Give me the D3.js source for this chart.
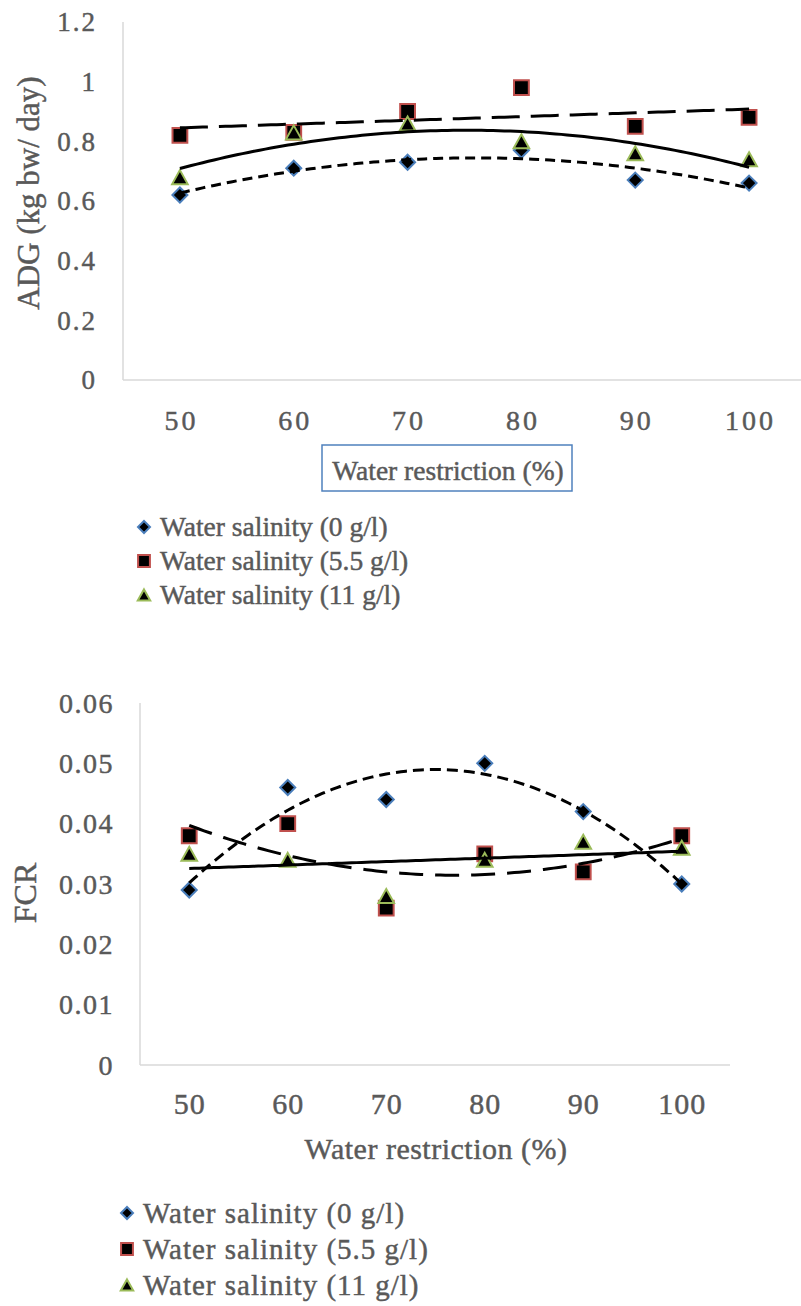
<!DOCTYPE html>
<html><head><meta charset="utf-8">
<script src="https://cdn.jsdelivr.net/npm/d3@7"></script>
<style>body{margin:0;background:#fff}svg{display:block}</style>
</head><body>
<svg id="c" width="801" height="1306"></svg>
<script>
const categories = [50, 60, 70, 80, 90, 100];
const seriesNames = ["Water salinity (0 g/l)", "Water salinity (5.5 g/l)", "Water salinity (11 g/l)"];
const adg0 = [0.62, 0.71, 0.73, 0.77, 0.67, 0.66];
const adg55 = [0.82, 0.83, 0.90, 0.98, 0.85, 0.88];
const adg11 = [0.68, 0.83, 0.86, 0.80, 0.76, 0.74];
const fcr0 = [0.029, 0.046, 0.044, 0.050, 0.042, 0.030];
const fcr55 = [0.038, 0.040, 0.026, 0.035, 0.032, 0.038];
const fcr11 = [0.035, 0.034, 0.028, 0.034, 0.037, 0.036];
const adgTicks = [0, 0.2, 0.4, 0.6, 0.8, 1, 1.2];
const fcrTicks = [0, 0.01, 0.02, 0.03, 0.04, 0.05, 0.06];
// trendline order per series: chart1 [poly, linear, poly]; chart2 [poly, poly, linear]
const adgTrend = [2, 1, 2];
const fcrTrend = [2, 2, 1];

const FONT = "'Liberation Serif'";
const svg = d3.select("#c");
const strokes = ["#4a7ebb", "#c0504d", "#9bbb59"];

function fit(ys, order) {
  const xs = ys.map((_, i) => i + 1);
  const m = order + 1;
  const A = [], b = [];
  for (let r = 0; r < m; r++) {
    A.push([]);
    for (let c = 0; c < m; c++) A[r].push(d3.sum(xs, x => Math.pow(x, r + c)));
    b.push(d3.sum(xs, (x, i) => ys[i] * Math.pow(x, r)));
  }
  for (let i = 0; i < m; i++) {
    for (let k = i + 1; k < m; k++) {
      const f = A[k][i] / A[i][i];
      for (let j = i; j < m; j++) A[k][j] -= f * A[i][j];
      b[k] -= f * b[i];
    }
  }
  const coef = new Array(m).fill(0);
  for (let i = m - 1; i >= 0; i--) {
    let s = b[i];
    for (let j = i + 1; j < m; j++) s -= A[i][j] * coef[j];
    coef[i] = s / A[i][i];
  }
  return x => coef.reduce((acc, c, i) => acc + c * Math.pow(x, i), 0);
}

function markerPath(i, s) {
  const p = d3.path();
  if (i === 0) { const r = 7.5 * s; p.moveTo(0, -r); p.lineTo(r, 0); p.lineTo(0, r); p.lineTo(-r, 0); p.closePath(); }
  else if (i === 1) { const h = 7.4 * s; p.rect(-h, -h, 2 * h, 2 * h); }
  else { const w = 7.8 * s, hh = 7 * s; p.moveTo(0, -hh); p.lineTo(w, hh); p.lineTo(-w, hh); p.closePath(); }
  return p.toString();
}

function drawMarker(g, i, x, y, s) {
  g.append("path").attr("d", markerPath(i, s))
    .attr("transform", `translate(${x},${y})`)
    .attr("fill", "#000").attr("stroke", strokes[i]).attr("stroke-width", 2);
}

function txt(g, size, ls) {
  return g.append("text").style("font-family", FONT).style("font-size", size + "px")
    .style("letter-spacing", (ls || 0) + "px").style("fill", "#595959")
    .style("stroke", "#595959").style("stroke-width", "0.45px");
}

function chart(cfg) {
  const g = svg.append("g");
  const x = d3.scalePoint().domain(categories).range([cfg.left, cfg.right]).padding(0.5);
  const y = d3.scaleLinear().domain([cfg.ticks[0], cfg.ticks[cfg.ticks.length - 1]]).range([cfg.bottom, cfg.top]);
  g.append("line").attr("x1", cfg.left).attr("x2", cfg.left).attr("y1", cfg.top).attr("y2", cfg.bottom)
    .attr("stroke", "#d9d9d9").attr("stroke-width", 1.5);
  g.append("line").attr("x1", cfg.left).attr("x2", cfg.axisRight).attr("y1", cfg.bottom).attr("y2", cfg.bottom)
    .attr("stroke", "#d9d9d9").attr("stroke-width", 1.5);
  cfg.ticks.forEach(d => {
    txt(g, cfg.yTickSize, cfg.yTickLs).attr("x", cfg.yLabelX).attr("y", y(d)).attr("dy", "0.35em")
      .attr("text-anchor", "end").text(d);
  });
  categories.forEach(d => {
    txt(g, cfg.xTickSize, cfg.xTickLs).attr("x", x(d) + cfg.xTickLs / 2).attr("y", cfg.xLabelY)
      .attr("text-anchor", "middle").text(d);
  });
  txt(g, cfg.yTitleSize, 0).attr("transform", `translate(${cfg.yTitleX},${cfg.yTitleY}) rotate(-90)`)
    .attr("text-anchor", "middle").text(cfg.yTitle);
  txt(g, cfg.xTitleSize, cfg.xTitleLs).attr("x", cfg.xTitleX).attr("y", cfg.xTitleY)
    .attr("text-anchor", "middle").text("Water restriction (%)");
  if (cfg.box) {
    g.append("rect").attr("x", cfg.box[0]).attr("y", cfg.box[1]).attr("width", cfg.box[2]).attr("height", cfg.box[3])
      .attr("fill", "none").attr("stroke", "#4f81bd").attr("stroke-width", 1.5);
  }
  cfg.series.forEach((s, i) => {
    s.forEach((v, j) => drawMarker(g, i, x(categories[j]), y(v), 1));
  });
  const xi = d3.scaleLinear().domain([1, categories.length]).range([x(categories[0]), x(categories[categories.length - 1])]);
  const line = d3.line().x(d => xi(d[0])).y(d => y(d[1]));
  cfg.series.forEach((s, i) => {
    const f = fit(s, cfg.trend[i]);
    const pts = d3.range(1, 6.001, 0.05).map(t => [t, f(t)]);
    g.append("path").attr("d", line(pts)).attr("fill", "none").attr("stroke", "#000")
      .attr("stroke-width", 3).attr("stroke-dasharray", cfg.dash[i]);
  });
  seriesNames.forEach((n, i) => {
    const ly = cfg.legY + i * cfg.legStep;
    drawMarker(g, i, cfg.legMarkX, ly, 0.8);
    txt(g, cfg.legSize, cfg.legLs).attr("x", cfg.legTextX).attr("y", ly).attr("dy", "0.33em").text(n);
  });
}

chart({
  left: 123, right: 806, axisRight: 801, top: 22, bottom: 380, ticks: adgTicks,
  yLabelX: 97, yTickSize: 27, yTickLs: 2,
  xLabelY: 430, xTickSize: 28, xTickLs: 3,
  yTitle: "ADG (kg bw/ day)", yTitleX: 39, yTitleY: 193, yTitleSize: 31,
  xTitleX: 448, xTitleY: 480, xTitleSize: 27.5, box: [322, 445, 250, 46],
  series: [adg0, adg55, adg11], trend: adgTrend,
  dash: ["10,6", "28,11", null],
  legY: 527, legStep: 34, legMarkX: 144, legTextX: 160, legSize: 27.5, legLs: 0
});

chart({
  left: 140, right: 731, axisRight: 730, top: 703, bottom: 1065, ticks: fcrTicks,
  yLabelX: 114, yTickSize: 28, yTickLs: 1.5,
  xLabelY: 1114, xTickSize: 30, xTickLs: 1,
  yTitle: "FCR", yTitleX: 36, yTitleY: 893, yTitleSize: 32,
  xTitleX: 436, xTitleY: 1159, xTitleSize: 30, xTitleLs: 0.5,
  series: [fcr0, fcr55, fcr11], trend: fcrTrend,
  dash: ["11,6", "24,12", null],
  legY: 1213, legStep: 36, legMarkX: 127, legTextX: 143, legSize: 29, legLs: 1
});
</script>
</body></html>
